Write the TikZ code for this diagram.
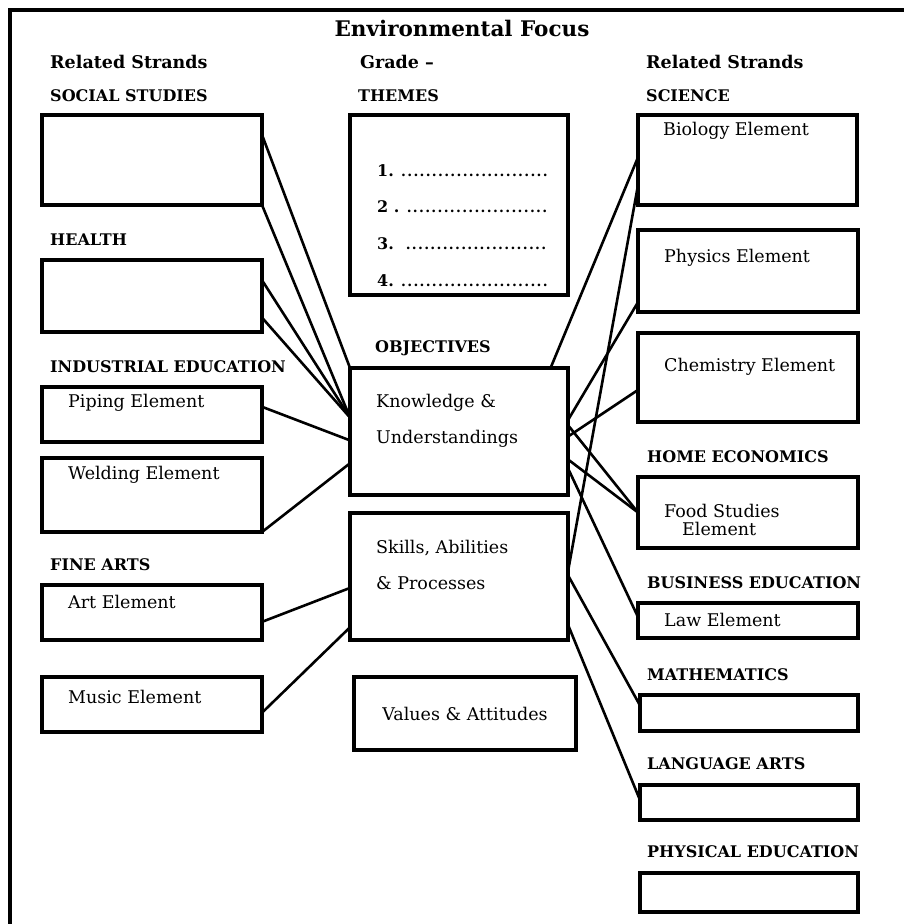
\documentclass[tikz,border=0pt]{standalone}
\usepackage{fontspec}
\setmainfont{DejaVu Serif}
\usetikzlibrary{calc}
\tikzstyle{strand}=[draw=black,line width=3.5pt,inner sep=0pt,
                    outer sep=0pt,anchor=north west]
\tikzstyle{link}=[line width=2.6pt]
\tikzstyle{heading}=[anchor=west,inner sep=0pt,
                     font=\fontsize{16}{18}\selectfont\bfseries]
\tikzstyle{subhead}=[anchor=west,inner sep=0pt,
                     font=\fontsize{17.5}{19}\selectfont\bfseries]
\tikzstyle{element}=[anchor=west,inner sep=0pt,
                     font=\fontsize{17.5}{19}\selectfont]

\begin{document}
\begin{tikzpicture}[x=1pt,y=-1pt]
    \useasboundingbox (0,0) rectangle (904,924);
    \draw[line width=3.5pt] (10,924) -- (10,10) -- (904,10);
    % titles
    \node (title) at (462,28) [font=\fontsize{21.5}{23}\selectfont\bfseries]
          {Environmental Focus};
    \node (relL) at (50,62) [subhead]{Related Strands};
    \node (grade) at (360,62) [subhead]{Grade --};
    \node (relR) at (646,62) [subhead]{Related Strands};
    % left strands
    \node (hSS) at (50,96) [heading]{SOCIAL STUDIES};
    \node (ss) at (42,115) [strand,minimum width=220,minimum height=90]{};
    \node (hHE) at (50,240) [heading]{HEALTH};
    \node (health) at (42,260) [strand,minimum width=220,minimum height=72]{};
    \node (hIE) at (50,367) [heading]{INDUSTRIAL EDUCATION};
    \node (piping) at (42,387) [strand,minimum width=220,minimum height=55]{};
    \node (tPip) at (68,403) [element]{Piping Element};
    \node (welding) at (42,458) [strand,minimum width=220,minimum height=74]{};
    \node (tWel) at (68,475) [element]{Welding Element};
    \node (hFA) at (50,565) [heading]{FINE ARTS};
    \node (art) at (42,585) [strand,minimum width=220,minimum height=55]{};
    \node (tArt) at (68,602) [element]{Art Element};
    \node (music) at (42,677) [strand,minimum width=220,minimum height=55]{};
    \node (tMus) at (68,697) [element]{Music Element};
    % centre column
    \node (hTH) at (358,96) [heading]{THEMES};
    \node (themes) at (350,115) [strand,minimum width=218,minimum height=180]{};
    \node (th1) at (377,171) [heading]{1.~\makebox[150pt]{\fontsize{14}{16}\selectfont\dotfill}};
    \node (th2) at (377,207) [heading]{2~.~\makebox[144pt]{\fontsize{14}{16}\selectfont\dotfill}};
    \node (th3) at (377,244) [heading]{3.~~\makebox[142pt]{\fontsize{14}{16}\selectfont\dotfill}};
    \node (th4) at (377,281) [heading]{4.~\makebox[150pt]{\fontsize{14}{16}\selectfont\dotfill}};
    \node (hOB) at (375,348) [heading]{OBJECTIVES};
    \node (know) at (350,368) [strand,minimum width=218,minimum height=127]{};
    \node (tKn1) at (376,403) [element]{Knowledge \&};
    \node (tKn2) at (376,439) [element]{Understandings};
    \node (skills) at (350,513) [strand,minimum width=218,minimum height=127]{};
    \node (tSk1) at (376,548) [element]{Skills, Abilities};
    \node (tSk2) at (376,583) [element]{\& Processes};
    \node (values) at (354,677) [strand,minimum width=222,minimum height=73]{};
    \node (tVal) at (values.center) [element,anchor=center]{Values \& Attitudes};
    % right strands
    \node (hSC) at (646,96) [heading]{SCIENCE};
    \node (bio) at (638,115) [strand,minimum width=219,minimum height=90]{};
    \node (tBio) at (663,131) [element]{Biology Element};
    \node (phys) at (638,230) [strand,minimum width=220,minimum height=82]{};
    \node (tPhy) at (664,258) [element]{Physics Element};
    \node (chem) at (638,333) [strand,minimum width=220,minimum height=89]{};
    \node (tChe) at (664,367) [element]{Chemistry Element};
    \node (hHO) at (647,457) [heading]{HOME ECONOMICS};
    \node (food) at (638,477) [strand,minimum width=220,minimum height=71]{};
    \node (tFo1) at (664,511) [element]{Food Studies};
    \node (tFo2) at (682,529) [element]{Element};
    \node (hBU) at (647,583) [heading]{BUSINESS EDUCATION};
    \node (law) at (638,603) [strand,minimum width=220,minimum height=35]{};
    \node (tLaw) at (664,620) [element]{Law Element};
    \node (hMA) at (647,675) [heading]{MATHEMATICS};
    \node (math) at (640,695) [strand,minimum width=218,minimum height=36]{};
    \node (hLA) at (647,764) [heading]{LANGUAGE ARTS};
    \node (lang) at (640,785) [strand,minimum width=218,minimum height=35]{};
    \node (hPE) at (647,852) [heading]{PHYSICAL EDUCATION};
    \node (pe) at (640,873) [strand,minimum width=218,minimum height=39]{};
    % links, left side
    \draw[link] ($(ss.north east)!.22!(ss.south east)$) -- (know.north west);
    \draw[link] (ss.south east) -- ($(know.north west)!.39!(know.south west)$);
    \draw[link] ($(health.north east)!.28!(health.south east)$) -- ($(know.north west)!.39!(know.south west)$);
    \draw[link] ($(health.north east)!.80!(health.south east)$) -- ($(know.north west)!.39!(know.south west)$);
    \draw[link] ($(piping.north east)!.36!(piping.south east)$) -- ($(know.north west)!.57!(know.south west)$);
    \draw[link] (welding.south east) -- ($(know.north west)!.75!(know.south west)$);
    \draw[link] ($(art.north east)!.67!(art.south east)$) -- ($(skills.north west)!.59!(skills.south west)$);
    \draw[link] ($(music.north east)!.65!(music.south east)$) -- ($(skills.north west)!.90!(skills.south west)$);
    % links, right side
    \draw[link] ($(bio.north west)!.47!(bio.south west)$) -- ($(know.north west)!.92!(know.north east)$);
    \draw[link] ($(bio.north west)!.78!(bio.south west)$) -- ($(skills.north east)!.46!(skills.south east)$);
    \draw[link] ($(phys.north west)!.88!(phys.south west)$) -- ($(know.north east)!.41!(know.south east)$);
    \draw[link] ($(chem.north west)!.64!(chem.south west)$) -- ($(know.north east)!.54!(know.south east)$);
    \draw[link] ($(know.north east)!.45!(know.south east)$) -- ($(food.north west)!.5!(food.south west)$);
    \draw[link] ($(know.north east)!.72!(know.south east)$) -- ($(food.north west)!.5!(food.south west)$);
    \draw[link] ($(know.north east)!.79!(know.south east)$) -- ($(law.north west)!.4!(law.south west)$);
    \draw[link] ($(skills.north east)!.49!(skills.south east)$) -- ($(math.north west)!.29!(math.south west)$);
    \draw[link] ($(skills.north east)!.88!(skills.south east)$) -- ($(lang.north west)!.43!(lang.south west)$);
\end{tikzpicture}
\end{document}
